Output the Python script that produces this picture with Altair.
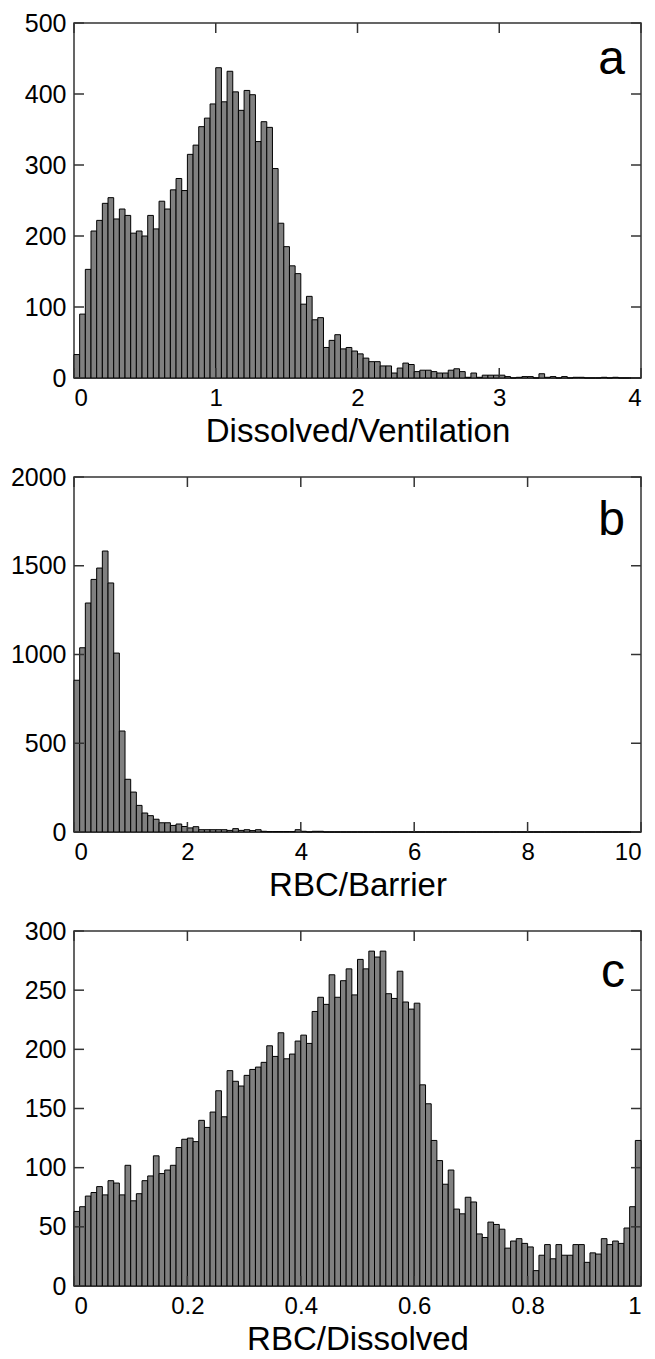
import altair as alt
import pandas as pd

# ---------------- data ----------------
# Panel a: Dissolved/Ventilation, 100 bins of width 0.04 on [0, 4]
a_counts = [33, 90, 153, 207, 222, 246, 254, 224, 238, 229,
            204, 207, 200, 229, 210, 249, 238, 265, 281, 264,
            315, 328, 354, 366, 386, 437, 389, 432, 403, 377,
            405, 399, 333, 361, 353, 295, 218, 185, 158, 147,
            104, 115, 82, 85, 43, 53, 61, 41, 43, 38,
            34, 28, 23, 23, 17, 17, 7, 14, 21, 19,
            9, 11, 11, 9, 7, 7, 11, 13, 9, 1,
            7, 1, 4, 4, 4, 4, 2, 0, 1, 2,
            2, 0, 6, 1, 2, 0, 2, 0, 1, 1,
            0, 0, 0, 1, 0, 1, 0, 0, 0, 0]
a_bin_width = 0.04
a_xticks = [0, 1, 2, 3, 4]
a_yticks = [0, 100, 200, 300, 400, 500]

# Panel b: RBC/Barrier, 100 bins of width 0.1 on [0, 10]
b_counts = [855, 1038, 1290, 1423, 1487, 1583, 1403, 1008, 569, 297,
            225, 150, 107, 92, 72, 52, 52, 37, 45, 31,
            23, 30, 13, 13, 13, 13, 13, 9, 19, 9,
            13, 8, 13, 4, 2, 2, 2, 2, 2, 13,
            4, 0, 4, 4, 0, 0, 0, 0, 0, 0,
            0, 0, 0, 0, 0, 0, 0, 0, 0, 0,
            0, 0, 0, 0, 0, 0, 0, 0, 0, 0,
            0, 0, 0, 0, 0, 0, 0, 0, 0, 0,
            0, 0, 0, 0, 0, 0, 0, 0, 0, 0,
            0, 0, 0, 0, 0, 0, 0, 0, 0, 0]
b_bin_width = 0.1
b_xticks = [0, 2, 4, 6, 8, 10]
b_yticks = [0, 500, 1000, 1500, 2000]

# Panel c: RBC/Dissolved, 100 bins of width 0.01 on [0, 1]
c_counts = [63, 67, 76, 79, 84, 77, 89, 87, 77, 102,
            72, 78, 89, 93, 110, 95, 98, 102, 117, 124,
            125, 122, 140, 134, 147, 165, 143, 182, 173, 169,
            178, 183, 185, 189, 203, 194, 214, 192, 196, 207,
            212, 205, 232, 244, 238, 263, 244, 258, 268, 246,
            276, 268, 283, 278, 283, 247, 243, 266, 240, 234,
            239, 170, 154, 123, 106, 86, 98, 65, 61, 75,
            71, 44, 41, 54, 52, 48, 32, 38, 40, 36,
            33, 13, 26, 35, 23, 35, 26, 26, 35, 35,
            20, 28, 27, 40, 35, 38, 36, 49, 67, 123]
c_bin_width = 0.01
c_xticks = [0, 0.2, 0.4, 0.6, 0.8, 1]
c_yticks = [0, 50, 100, 150, 200, 250, 300]

FONT = "Liberation Sans"
W, H = 567, 355
FRAME = "#333333"
TICK = 10


def panel(counts, bw, xticks, yticks, xtitle, letter, letter_y):
    xmax = xticks[-1]
    ymax = yticks[-1]
    df = pd.DataFrame({
        "x0": [k * bw for k in range(len(counts))],
        "x1": [(k + 1) * bw for k in range(len(counts))],
        "count": counts,
    })
    xs = alt.Scale(domain=[0, xmax], nice=False, zero=False)
    ys = alt.Scale(domain=[0, ymax], nice=False)
    bars = alt.Chart(df).mark_rect(fill="#808080", stroke="black", strokeWidth=1).encode(
        x=alt.X("x0:Q", scale=xs, title=xtitle,
                axis=alt.Axis(values=xticks, format="~g")),
        x2="x1:Q",
        y=alt.Y("count:Q", scale=ys, title=None,
                axis=alt.Axis(values=yticks, format="d")),
        y2=alt.datum(0),
    )
    xt = pd.DataFrame({"x0": xticks})
    yt = pd.DataFrame({"count": yticks})
    rule = dict(color=FRAME, strokeWidth=1.5)
    bottom = alt.Chart(xt).mark_rule(**rule).encode(
        x=alt.X("x0:Q", scale=xs, title=xtitle), y=alt.value(H), y2=alt.value(H - TICK))
    top = alt.Chart(xt).mark_rule(**rule).encode(
        x=alt.X("x0:Q", scale=xs, title=xtitle), y=alt.value(0), y2=alt.value(TICK))
    left = alt.Chart(yt).mark_rule(**rule).encode(
        y=alt.Y("count:Q", scale=ys, title=None), x=alt.value(0), x2=alt.value(TICK))
    right = alt.Chart(yt).mark_rule(**rule).encode(
        y=alt.Y("count:Q", scale=ys, title=None), x=alt.value(W - TICK), x2=alt.value(W))
    txt = alt.Chart(pd.DataFrame({"t": [letter]})).mark_text(
        align="right", baseline="alphabetic", font=FONT, fontSize=48, color="black"
    ).encode(text="t:N", x=alt.value(W - 16), y=alt.value(letter_y))
    return alt.layer(bars, bottom, top, left, right, txt).properties(width=W, height=H)


pa = panel(a_counts, a_bin_width, a_xticks, a_yticks, "Dissolved/Ventilation", "a", 51)
pb = panel(b_counts, b_bin_width, b_xticks, b_yticks, "RBC/Barrier", "b", 58)
pc = panel(c_counts, c_bin_width, c_xticks, c_yticks, "RBC/Dissolved", "c", 56)

chart = alt.vconcat(pa, pb, pc, spacing=15).properties(
    padding={"left": 9, "top": 10, "right": 0, "bottom": 0}
).configure_view(
    stroke=FRAME, strokeWidth=1.5
).configure_axis(
    domain=False, ticks=False, grid=False,
    labelFont=FONT, titleFont=FONT, labelColor="black", titleColor="black",
    titleFontWeight="normal",
).configure_axisX(
    labelFontSize=24, labelPadding=8, titleFontSize=33, titlePadding=5,
).configure_axisY(
    labelFontSize=25, labelPadding=8,
)

chart.save("out.html", embed_options={"renderer": "svg", "actions": False})
